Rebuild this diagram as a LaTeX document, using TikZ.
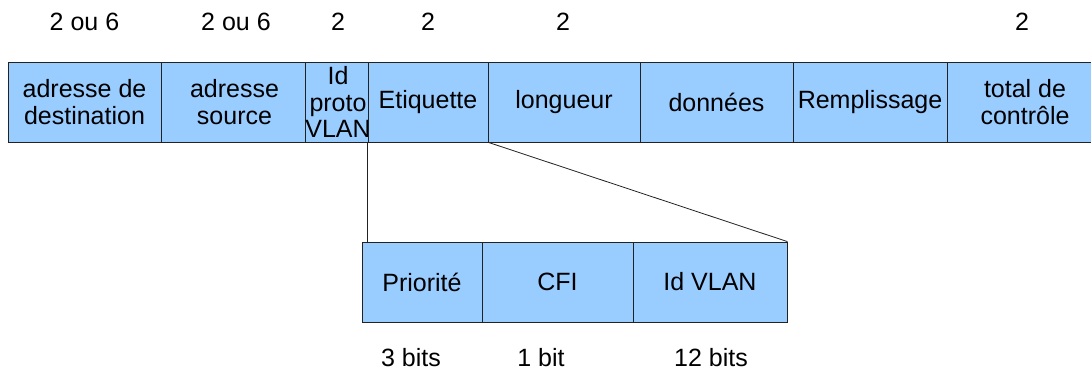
\documentclass[tikz,border=0pt]{standalone}
\usepackage{fontspec}
\setmainfont{Liberation Sans}
\definecolor{fieldblue}{HTML}{99CCFF}
\definecolor{edge}{HTML}{222222}
\begin{document}
\begin{tikzpicture}[x=1pt,y=-1pt,
  field/.style={draw=edge, line width=0.8pt, fill=fieldblue, inner sep=0pt,
    minimum height=80pt, align=center,
    font=\fontsize{25}{27}\selectfont},
  size/.style={inner sep=0pt, font=\fontsize{25}{27}\selectfont},
  link/.style={draw=edge, line width=0.8pt}]
\useasboundingbox (0,0) rectangle (1091,374);
% Ethernet frame with 802.1Q tag
\node[field, minimum width=153pt] (dst)  at (84.5,102) {adresse de\\destination};
\node[field, minimum width=147pt] (src)  at (234.5,102) {adresse\\source};
\node[field, minimum width=60pt,  font=\fontsize{25}{26.5}\selectfont] (tpid) at (338,102) {Id\\proto\\VLAN};
\node[field, minimum width=120pt] (tag)  at (428,102) {Etiquette};
\node[field, minimum width=152pt] (len)  at (564,102) {longueur};
\node[field, minimum width=153pt] (data) at (716.5,102) {données};
\node[field, minimum width=154pt] (pad)  at (870,102) {Remplissage};
\node[field, minimum width=156pt] (fcs)  at (1025,102) {total de\\contrôle};
% field sizes in bytes
\node[size] (s1) at (84.5,22) {2 ou 6};
\node[size] (s2) at (236,22) {2 ou 6};
\node[size] (s3) at (338,22) {2};
\node[size] (s4) at (428,22) {2};
\node[size] (s5) at (563,22) {2};
\node[size] (s6) at (1022,22) {2};
% tag contents
\node[field, minimum width=120pt] (pri) at (422,282) {Priorité};
\node[field, minimum width=151pt] (cfi) at (557.5,282) {CFI};
\node[field, minimum width=154pt] (vid) at (710,282) {Id VLAN};
\node[size] (b1) at (411,358) {3 bits};
\node[size] (b2) at (541,358) {1 bit};
\node[size] (b3) at (711,358) {12 bits};
% zoom lines
\draw[link] (tag.south west) -- (tag.south west |- pri.north);
\draw[link] (tag.south east) -- (vid.north east);
\end{tikzpicture}
\end{document}
